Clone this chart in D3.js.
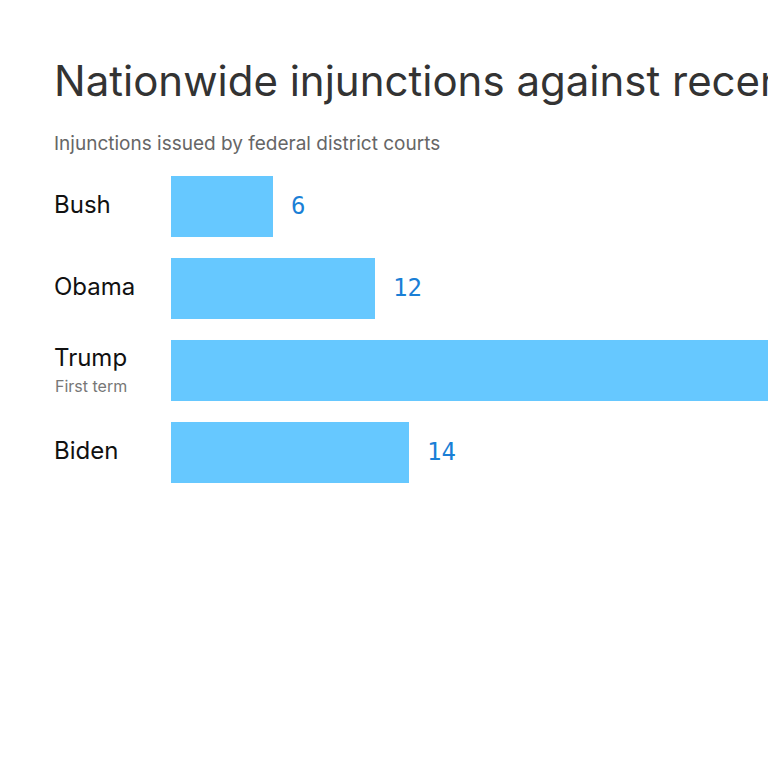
<!DOCTYPE html>
<html>
<head>
<meta charset="utf-8">
<script src="https://cdn.jsdelivr.net/npm/d3@7"></script>
<style>
  body { margin: 0; background: #fff; }
  svg { display: block; }
</style>
</head>
<body>
<div id="chart"></div>
<script>
// data
const presidents = ["Bush", "Obama", "Trump", "Biden"];
const notes = ["", "", "First term", ""];
const injunctions = [6, 12, 64, 14];

const width = 768, height = 768;
const svg = d3.select("#chart").append("svg")
  .attr("width", width)
  .attr("height", height);

svg.append("text")
  .attr("x", 54).attr("y", 96)
  .attr("font-family", "Inter, sans-serif")
  .attr("font-size", 42)
  .attr("fill", "#333")
  .text("Nationwide injunctions against recent presidents");

svg.append("text")
  .attr("x", 54).attr("y", 150)
  .attr("font-family", "Inter, sans-serif")
  .attr("font-size", 19)
  .attr("fill", "#666")
  .text("Injunctions issued by federal district courts");

const x = d3.scaleLinear().domain([0, 6]).range([171, 273]);
const y = d3.scaleBand().domain(presidents).range([176, 483]).paddingInner(0.256).paddingOuter(0);

const rows = svg.selectAll("g.row")
  .data(presidents)
  .enter().append("g").attr("class", "row");

rows.append("rect")
  .attr("x", x(0))
  .attr("y", d => y(d))
  .attr("width", (d, i) => x(injunctions[i]) - x(0))
  .attr("height", y.bandwidth())
  .attr("fill", "#66c8ff");

rows.append("text")
  .attr("x", 54)
  .attr("y", (d, i) => y(d) + (notes[i] ? 26 : 37))
  .attr("font-family", "Inter, sans-serif")
  .attr("font-size", 24)
  .attr("fill", "#111")
  .text(d => d);

rows.append("text")
  .attr("x", 55)
  .attr("y", d => y(d) + 52)
  .attr("font-family", "Inter, sans-serif")
  .attr("font-size", 16)
  .attr("fill", "#777")
  .text((d, i) => notes[i]);

rows.append("text")
  .attr("x", (d, i) => x(injunctions[i]) + 18)
  .attr("y", d => y(d) + 38)
  .attr("font-family", "'DejaVu Sans Mono', monospace")
  .attr("font-size", 24)
  .attr("fill", "#1a7fd6")
  .text((d, i) => injunctions[i]);
</script>
</body>
</html>
